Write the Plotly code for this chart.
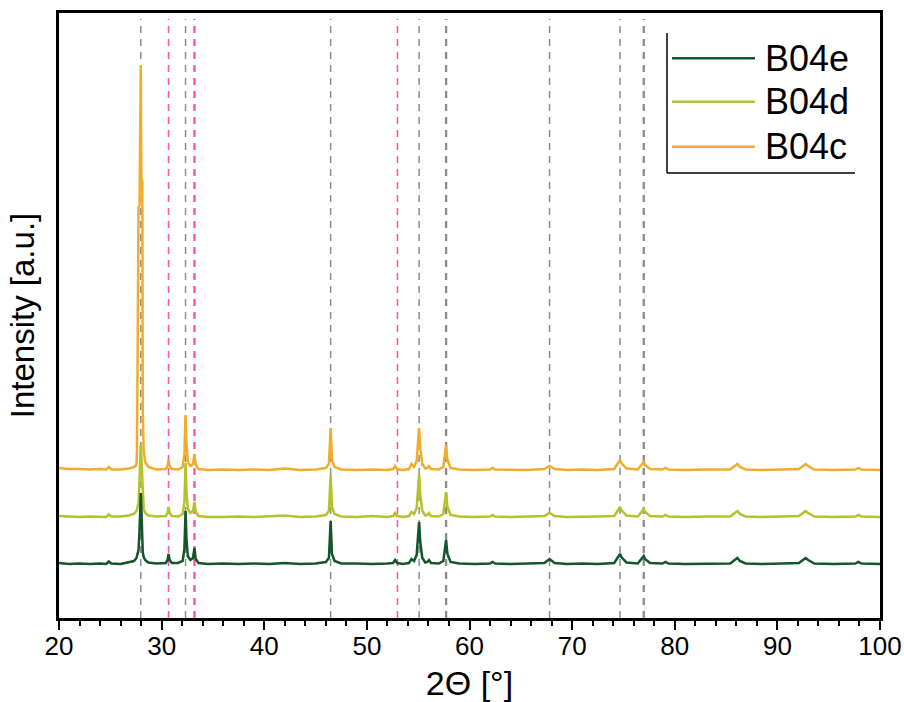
import plotly.graph_objects as go

# ---- data ----
two_theta = [
    20.0, 21.0, 22.0, 23.0, 24.0, 24.6, 24.85, 25.1, 26.0, 26.8, 27.3,
    27.55, 27.6, 27.75, 27.85, 27.92, 27.97, 28.02, 28.07, 28.12, 28.16, 28.25, 28.4, 28.7,
    29.5, 30.4, 30.58, 30.67, 30.78, 31.0, 31.6,
    32.05, 32.22, 32.33, 32.42, 32.55, 32.8, 33.05, 33.2, 33.32, 33.6,
    34.5, 36.0, 37.5, 39.0, 40.5, 42.0, 43.5, 45.0,
    46.0, 46.3, 46.47, 46.6, 46.85, 47.5,
    49.0, 50.5, 52.0, 52.55, 52.75, 52.95, 53.5,
    54.1, 54.35, 54.6, 54.85, 55.09, 55.2, 55.4, 55.7, 55.9, 56.05, 56.25, 57.0, 57.45, 57.72, 57.85, 58.15,
    59.0, 60.5, 62.0, 62.25, 62.5, 64.0, 65.5, 67.3, 67.8, 68.3, 69.5, 71.0, 72.5,
    74.1, 74.67, 74.8, 75.3, 76.4, 76.98, 77.1, 77.6, 78.8, 79.1, 79.4,
    81.0, 83.0, 85.4, 86.1, 86.35, 86.9, 88.5, 90.5, 92.1, 92.75, 93.0, 93.6, 95.5, 97.6, 97.9, 98.2, 100.0,
]

b04e = [
    1, 0, 0.5, 0, 0.5, 0, 2.5, 0.5, 0, 1.5, 3,
    6, 8, 14, 35, 62, 71, 58, 44, 22, 12, 7, 4, 1.5,
    0.5, 1, 4, 10, 4, 1, 1,
    3, 15, 53, 25, 8, 4, 6, 16, 5, 1,
    0, 0.5, 0, 0.5, 0, 1, 0, 0.5,
    2, 6, 43, 10, 3, 0.5,
    0.5, 0, 0.5, 1, 4, 1, 0,
    1, 5, 3, 9, 42, 22, 6, 1.5, 2, 4, 1, 0.5, 3, 24, 10, 2,
    0.5, 0, 0.5, 2, 0.5, 0, 0.5, 1, 5, 1, 0, 0.5, 0,
    1, 10, 7, 1.5, 0.5, 8, 5, 1, 0.5, 2, 0.5,
    0, 0.5, 0.5, 6, 3, 0.5, 0, 0.5, 1, 6, 4, 0.5, 0, 0.5, 2, 0.5, 0,
]

b04d = [
    1, 0.5, 0, 0.5, 0, 0, 2.5, 0.5, 0.5, 1.5, 3,
    6, 8, 14, 38, 60, 72, 62, 48, 25, 14, 8, 4, 1.5,
    0.5, 1, 4, 10, 4, 1, 0.5,
    3, 15, 54, 26, 8, 4, 6, 15, 5, 1,
    0, 0, 0.5, 0, 0.5, 1.5, 0, 0.5,
    2, 6, 42, 10, 3, 0.5,
    0, 1, 0, 1, 4, 1, 0,
    1, 5, 3, 9, 43, 22, 6, 1.5, 2, 4, 1, 0.5, 3, 25, 10, 2,
    0.5, 0, 0.5, 2, 0.5, 0, 0.5, 1, 4, 1, 0, 0, 0.5,
    1, 10, 7, 1.5, 0.5, 8, 5, 1, 0.5, 2, 0.5,
    0, 0.5, 0.5, 6, 3, 0.5, 0, 0.5, 1, 6, 4, 0.5, 0, 0.5, 2, 0.5, 0,
]

b04c = [
    2, 1, 1, 0.5, 1, 0.5, 3, 0.5, 0.5, 1.5, 3,
    5, 20, 262, 265, 330, 405, 292, 290, 288, 60, 20, 8, 3,
    0.5, 1, 4, 10, 4, 1, 0.5,
    3, 16, 55, 27, 8, 4, 6, 16, 5, 1,
    0, 0.5, 0, 0.5, 0, 1.5, 0, 0.5,
    2, 6, 42, 10, 3, 0.5,
    0, 0.5, 0, 1, 4, 1, 0,
    1, 6, 3, 9, 42, 22, 6, 1.5, 2, 4, 1, 0.5, 3, 25, 10, 2,
    0.5, 0, 0.5, 2, 0.5, 0, 0, 1, 4, 1, 0, 0.5, 0,
    1, 10, 7, 1.5, 0.5, 8, 5, 1, 0.5, 2, 0.5,
    0, 0.5, 0.5, 6, 3, 0.5, 0, 0.5, 1, 6, 4, 0.5, 0, 0.5, 2, 0.5, 0,
]

series_names = ["B04e", "B04d", "B04c"]
series_offsets = [54, 101, 148]          # vertical stacking offsets (a.u.)

ref_gray = [27.97, 32.33, 46.47, 55.09, 57.68, 57.76, 67.8, 74.67, 76.94, 77.02]
ref_pink = [30.67, 33.16, 33.24, 52.98]

x_ticks = [20, 30, 40, 50, 60, 70, 80, 90, 100]

colors = {"B04e": "#14552B", "B04d": "#B4C22C", "B04c": "#F2AC2B"}
FONT = "Liberation Sans, Arial, sans-serif"

fig = go.Figure()

# draw order: B04c at the bottom, B04e on top
values = {"B04e": b04e, "B04d": b04d, "B04c": b04c}
offs = dict(zip(series_names, series_offsets))
for name in ["B04c", "B04d", "B04e"]:
    fig.add_trace(go.Scatter(
        x=two_theta,
        y=[v + offs[name] for v in values[name]],
        mode="lines",
        name=name,
        line=dict(color=colors[name], width=2.5),
        showlegend=False,
    ))

# reference dashed lines
for xv in ref_gray:
    fig.add_shape(type="line", xref="x", yref="paper", x0=xv, x1=xv, y0=0, y1=0.99,
                  line=dict(color="#8C8C8C", width=1.5, dash="7px,6px"), layer="below")
for xv in ref_pink:
    fig.add_shape(type="line", xref="x", yref="paper", x0=xv, x1=xv, y0=0, y1=0.99,
                  line=dict(color="#FF4FAA", width=1.5, dash="7px,6px"), layer="below")

# manual legend (box with left and bottom edge only)
L, T, W, H = 59, 13, 821, 605
def px(x):
    return (x - L) / W
def py(y):
    return (T + H - y) / H

fig.add_shape(type="line", xref="paper", yref="paper", x0=px(667), x1=px(667), y0=py(33), y1=py(173),
              line=dict(color="black", width=1.5))
fig.add_shape(type="line", xref="paper", yref="paper", x0=px(667), x1=px(855), y0=py(173), y1=py(173),
              line=dict(color="black", width=1.5))
legend_rows = [58.3, 101.7, 146.7]
for name, yrow in zip(series_names, legend_rows):
    fig.add_shape(type="line", xref="paper", yref="paper", x0=px(672), x1=px(755), y0=py(yrow), y1=py(yrow),
                  line=dict(color=colors[name], width=2.5))
    fig.add_annotation(xref="paper", yref="paper", x=px(763), y=py(yrow), text=name,
                       showarrow=False, xanchor="left", yanchor="middle",
                       font=dict(family=FONT, size=36, color="black"))

fig.update_layout(
    width=904, height=702,
    margin=dict(l=L, r=904 - L - W, t=T, b=702 - T - H, autoexpand=False),
    paper_bgcolor="white", plot_bgcolor="white",
    font=dict(family=FONT, color="black"),
    showlegend=False,
)
fig.update_xaxes(
    range=[20, 100], tickvals=x_ticks, ticks="outside", ticklen=9, tickwidth=2, tickcolor="black",
    minor=dict(dtick=2, tick0=20, ticks="outside", ticklen=5, tickwidth=2, tickcolor="black"),
    showline=True, linewidth=2.5, linecolor="black", mirror=True,
    showgrid=False, zeroline=False, automargin=False,
    tickfont=dict(family=FONT, size=26, color="black"),
    ticklabelstandoff=-6,
    title=dict(text="2Θ [°]", font=dict(family=FONT, size=34, color="black"), standoff=14),
)
fig.update_yaxes(
    range=[0, 605], showticklabels=False, ticks="",
    showline=True, linewidth=2.5, linecolor="black", mirror=True,
    showgrid=False, zeroline=False, automargin=False,
    title=dict(text="Intensity [a.u.]", font=dict(family=FONT, size=33, color="black"), standoff=12),
)

fig.write_html("out.html")
